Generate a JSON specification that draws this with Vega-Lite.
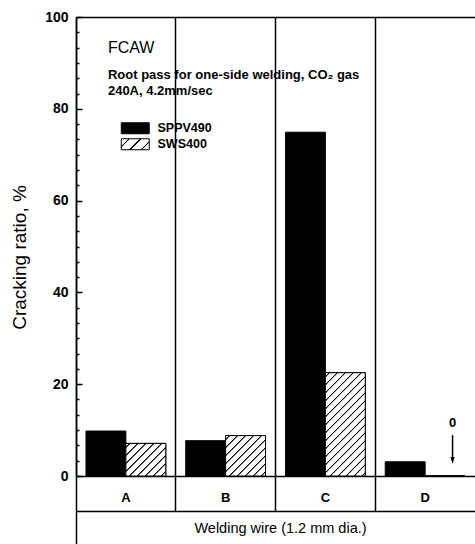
{
  "$schema": "https://vega.github.io/schema/vega-lite/v6.json",
  "width": 399,
  "height": 459,
  "autosize": {"type": "none"},
  "padding": {"left": 76, "top": 17, "right": 0, "bottom": 68},
  "background": "white",
  "config": {
    "view": {"stroke": null},
    "font": "Liberation Sans",
    "axis": {"domainColor": "black", "tickColor": "black", "domainWidth": 1.5, "tickWidth": 1.5, "labelColor": "black", "titleColor": "black", "labelFont": "Liberation Sans", "titleFont": "Liberation Sans"}
  },
  "data": {"values": [
    {"wire": "A", "steel": "SPPV490", "ratio": 9.8},
    {"wire": "A", "steel": "SWS400", "ratio": 7.1},
    {"wire": "B", "steel": "SPPV490", "ratio": 7.7},
    {"wire": "B", "steel": "SWS400", "ratio": 8.8},
    {"wire": "C", "steel": "SPPV490", "ratio": 74.9},
    {"wire": "C", "steel": "SWS400", "ratio": 22.5},
    {"wire": "D", "steel": "SPPV490", "ratio": 3.1},
    {"wire": "D", "steel": "SWS400", "ratio": 0}
  ]},
  "resolve": {"axis": {"x": "independent", "y": "independent"}},
  "layer": [
    {
      "mark": {"type": "bar", "stroke": "black", "strokeWidth": 1},
      "encoding": {
        "x": {"field": "wire", "type": "nominal", "scale": {"paddingInner": 0, "paddingOuter": 0},
          "axis": {"orient": "bottom", "title": null, "labelAngle": 0, "bandPosition": 0, "tickSize": 35, "labelPadding": -14, "labelBaseline": "middle", "labelFontSize": 13, "labelFontWeight": "bold", "grid": true, "gridColor": "black", "gridWidth": 1.5, "gridOpacity": 1}},
        "xOffset": {"field": "steel", "type": "nominal", "scale": {"paddingInner": 0, "paddingOuter": 0.25}},
        "y": {"field": "ratio", "type": "quantitative", "scale": {"domain": [0, 100], "nice": false},
          "axis": {"orient": "left", "values": [0, 20, 40, 60, 80, 100], "format": "d", "tickSize": -6, "labelPadding": 14, "labelFontSize": 14, "labelFontWeight": "bold", "labelOverlap": false, "grid": false, "title": "Cracking ratio, %", "titleFontSize": 19, "titleFontWeight": "normal", "titleX": -57, "titleY": 240, "titleAngle": -90, "titleBaseline": "middle", "titleAlign": "center"}},
        "fill": {"field": "steel", "type": "nominal", "scale": {"domain": ["SPPV490", "SWS400"], "range": ["black",
              {"expr": "{gradient: 'linear', x1: 0, y1: 0, x2: 1.2066, y2: 0.474, stops: [{offset: 0, color: 'white'}, {offset: 0.17692, color: 'white'}, {offset: 0.19231, color: 'black'}, {offset: 0.21795, color: 'black'}, {offset: 0.23333, color: 'white'}, {offset: 0.47179, color: 'white'}, {offset: 0.48718, color: 'black'}, {offset: 0.51282, color: 'black'}, {offset: 0.52821, color: 'white'}, {offset: 0.76667, color: 'white'}, {offset: 0.78205, color: 'black'}, {offset: 0.80769, color: 'black'}, {offset: 0.82308, color: 'white'}, {offset: 1, color: 'white'}]}"}]},
          "legend": {"orient": "none", "legendX": 53, "legendY": 105, "title": null, "padding": 0,
            "symbolType": "M-2.545,-1H2.545V1H-2.545Z", "symbolSize": 121, "symbolStrokeColor": "black", "symbolStrokeWidth": 1,
            "labelFont": "Liberation Sans", "labelFontSize": 12.5, "labelFontWeight": "bold", "labelColor": "black", "labelOffset": 16, "rowPadding": 0,
            "encode": {"symbols": {"update": {
              "stroke": {"value": "black"},
              "strokeWidth": {"value": 1},
              "opacity": {"value": 1},
              "fillOpacity": {"value": 1}
            }}}
          }
        }
      }
    },
    {
      "transform": [{"filter": "datum.steel === 'SWS400'"}],
      "mark": {"type": "bar", "stroke": "black", "strokeWidth": 1},
      "encoding": {
        "x": {"field": "wire", "type": "nominal", "axis": null},
        "xOffset": {"field": "steel", "type": "nominal"},
        "y": {"field": "ratio", "type": "quantitative", "axis": null},
        "fill": {
          "condition": [
            {"test": "datum.wire === 'A'", "value": {"gradient": "linear", "x1": 0, "y1": 0, "x2": 1.0906, "y2": 0.8888, "stops": [
              {"offset": 0, "color": "white"},
              {"offset": 0.0399, "color": "white"}, {"offset": 0.0482, "color": "black"}, {"offset": 0.062, "color": "black"}, {"offset": 0.0702, "color": "white"},
              {"offset": 0.1501, "color": "white"}, {"offset": 0.1584, "color": "black"}, {"offset": 0.1722, "color": "black"}, {"offset": 0.1804, "color": "white"},
              {"offset": 0.2603, "color": "white"}, {"offset": 0.2686, "color": "black"}, {"offset": 0.2824, "color": "black"}, {"offset": 0.2906, "color": "white"},
              {"offset": 0.3705, "color": "white"}, {"offset": 0.3788, "color": "black"}, {"offset": 0.3926, "color": "black"}, {"offset": 0.4008, "color": "white"},
              {"offset": 0.4807, "color": "white"}, {"offset": 0.489, "color": "black"}, {"offset": 0.5028, "color": "black"}, {"offset": 0.511, "color": "white"},
              {"offset": 0.5909, "color": "white"}, {"offset": 0.5992, "color": "black"}, {"offset": 0.6129, "color": "black"}, {"offset": 0.6212, "color": "white"},
              {"offset": 0.7011, "color": "white"}, {"offset": 0.7094, "color": "black"}, {"offset": 0.7231, "color": "black"}, {"offset": 0.7314, "color": "white"},
              {"offset": 0.8113, "color": "white"}, {"offset": 0.8196, "color": "black"}, {"offset": 0.8333, "color": "black"}, {"offset": 0.8416, "color": "white"},
              {"offset": 0.9215, "color": "white"}, {"offset": 0.9298, "color": "black"}, {"offset": 0.9435, "color": "black"}, {"offset": 0.9518, "color": "white"},
              {"offset": 1, "color": "white"}
            ]}},
            {"test": "datum.wire === 'B'", "value": {"gradient": "linear", "x1": 0, "y1": 0, "x2": 0.9952, "y2": 1.005, "stops": [
              {"offset": 0, "color": "white"},
              {"offset": 0.0361, "color": "white"}, {"offset": 0.0435, "color": "black"}, {"offset": 0.056, "color": "black"}, {"offset": 0.0634, "color": "white"},
              {"offset": 0.1356, "color": "white"}, {"offset": 0.143, "color": "black"}, {"offset": 0.1555, "color": "black"}, {"offset": 0.1629, "color": "white"},
              {"offset": 0.2351, "color": "white"}, {"offset": 0.2425, "color": "black"}, {"offset": 0.255, "color": "black"}, {"offset": 0.2624, "color": "white"},
              {"offset": 0.3346, "color": "white"}, {"offset": 0.342, "color": "black"}, {"offset": 0.3545, "color": "black"}, {"offset": 0.3619, "color": "white"},
              {"offset": 0.4341, "color": "white"}, {"offset": 0.4415, "color": "black"}, {"offset": 0.454, "color": "black"}, {"offset": 0.4614, "color": "white"},
              {"offset": 0.5336, "color": "white"}, {"offset": 0.541, "color": "black"}, {"offset": 0.5535, "color": "black"}, {"offset": 0.5609, "color": "white"},
              {"offset": 0.6331, "color": "white"}, {"offset": 0.6405, "color": "black"}, {"offset": 0.653, "color": "black"}, {"offset": 0.6604, "color": "white"},
              {"offset": 0.7326, "color": "white"}, {"offset": 0.74, "color": "black"}, {"offset": 0.7525, "color": "black"}, {"offset": 0.76, "color": "white"},
              {"offset": 0.8321, "color": "white"}, {"offset": 0.8396, "color": "black"}, {"offset": 0.852, "color": "black"}, {"offset": 0.8595, "color": "white"},
              {"offset": 0.9316, "color": "white"}, {"offset": 0.9391, "color": "black"}, {"offset": 0.9515, "color": "black"}, {"offset": 0.959, "color": "white"},
              {"offset": 1, "color": "white"}
            ]}},
            {"test": "datum.wire === 'C'", "value": {"gradient": "linear", "x1": 0, "y1": 0, "x2": 0.4673, "y2": 1.2066, "stops": [
              {"offset": 0, "color": "white"},
              {"offset": 0.02024, "color": "white"}, {"offset": 0.02442, "color": "black"}, {"offset": 0.0314, "color": "black"}, {"offset": 0.03559, "color": "white"},
              {"offset": 0.07606, "color": "white"}, {"offset": 0.08025, "color": "black"}, {"offset": 0.08723, "color": "black"}, {"offset": 0.09142, "color": "white"},
              {"offset": 0.13189, "color": "white"}, {"offset": 0.13608, "color": "black"}, {"offset": 0.14306, "color": "black"}, {"offset": 0.14724, "color": "white"},
              {"offset": 0.18772, "color": "white"}, {"offset": 0.19191, "color": "black"}, {"offset": 0.19888, "color": "black"}, {"offset": 0.20307, "color": "white"},
              {"offset": 0.24355, "color": "white"}, {"offset": 0.24773, "color": "black"}, {"offset": 0.25471, "color": "black"}, {"offset": 0.2589, "color": "white"},
              {"offset": 0.29937, "color": "white"}, {"offset": 0.30356, "color": "black"}, {"offset": 0.31054, "color": "black"}, {"offset": 0.31473, "color": "white"},
              {"offset": 0.3552, "color": "white"}, {"offset": 0.35939, "color": "black"}, {"offset": 0.36637, "color": "black"}, {"offset": 0.37055, "color": "white"},
              {"offset": 0.41103, "color": "white"}, {"offset": 0.41521, "color": "black"}, {"offset": 0.42219, "color": "black"}, {"offset": 0.42638, "color": "white"},
              {"offset": 0.46686, "color": "white"}, {"offset": 0.47104, "color": "black"}, {"offset": 0.47802, "color": "black"}, {"offset": 0.48221, "color": "white"},
              {"offset": 0.52268, "color": "white"}, {"offset": 0.52687, "color": "black"}, {"offset": 0.53385, "color": "black"}, {"offset": 0.53804, "color": "white"},
              {"offset": 0.57851, "color": "white"}, {"offset": 0.5827, "color": "black"}, {"offset": 0.58967, "color": "black"}, {"offset": 0.59386, "color": "white"},
              {"offset": 0.63434, "color": "white"}, {"offset": 0.63852, "color": "black"}, {"offset": 0.6455, "color": "black"}, {"offset": 0.64969, "color": "white"},
              {"offset": 0.69016, "color": "white"}, {"offset": 0.69435, "color": "black"}, {"offset": 0.70133, "color": "black"}, {"offset": 0.70552, "color": "white"},
              {"offset": 0.74599, "color": "white"}, {"offset": 0.75018, "color": "black"}, {"offset": 0.75716, "color": "black"}, {"offset": 0.76134, "color": "white"},
              {"offset": 0.80182, "color": "white"}, {"offset": 0.80601, "color": "black"}, {"offset": 0.81298, "color": "black"}, {"offset": 0.81717, "color": "white"},
              {"offset": 0.85765, "color": "white"}, {"offset": 0.86183, "color": "black"}, {"offset": 0.86881, "color": "black"}, {"offset": 0.873, "color": "white"},
              {"offset": 0.91347, "color": "white"}, {"offset": 0.91766, "color": "black"}, {"offset": 0.92464, "color": "black"}, {"offset": 0.92883, "color": "white"},
              {"offset": 0.9693, "color": "white"}, {"offset": 0.97349, "color": "black"}, {"offset": 0.98046, "color": "black"}, {"offset": 0.98465, "color": "white"},
              {"offset": 1, "color": "white"}
            ]}}
          ],
          "value": "white"
        }
      }
    },
    {
      "data": {"values": [{}]},
      "mark": {"type": "text", "align": "left", "baseline": "alphabetic", "font": "Liberation Sans", "fontSize": 16, "text": "FCAW", "color": "black"},
      "encoding": {
        "x": {"datum": "A", "bandPosition": 0.32,
          "axis": {"orient": "bottom", "offset": 35, "values": ["A"], "bandPosition": 0, "tickSize": 33, "labels": false, "grid": false, "title": "Welding wire (1.2 mm dia.)", "titleFontSize": 14.5, "titleFontWeight": "normal", "titleX": 204, "titleY": 17, "titleBaseline": "middle", "titleAlign": "center"}},
        "y": {"datum": 92.1,
          "axis": {"orient": "left", "values": [3.33, 6.67, 10, 13.33, 16.67, 23.33, 26.67, 30, 33.33, 36.67, 43.33, 46.67, 50, 53.33, 56.67, 63.33, 66.67, 70, 73.33, 76.67, 83.33, 86.67, 90, 93.33, 96.67], "tickSize": -3, "domain": false, "labels": false, "grid": false, "title": null}}
      }
    },
    {
      "data": {"values": [{}]},
      "mark": {"type": "text", "align": "left", "baseline": "alphabetic", "font": "Liberation Sans", "fontSize": 13, "fontWeight": "bold", "text": "Root pass for one-side welding, CO₂ gas", "color": "black"},
      "encoding": {
        "x": {"datum": "A", "bandPosition": 0.32, "axis": {"orient": "top", "domain": true, "ticks": false, "labels": false, "grid": false, "title": null}},
        "y": {"datum": 86.5, "axis": null}
      }
    },
    {
      "data": {"values": [{}]},
      "mark": {"type": "text", "align": "left", "baseline": "alphabetic", "font": "Liberation Sans", "fontSize": 13, "fontWeight": "bold", "text": "240A, 4.2mm/sec", "color": "black"},
      "encoding": {
        "x": {"datum": "A", "bandPosition": 0.32, "axis": null},
        "y": {"datum": 83.1, "axis": null}
      }
    },
    {
      "data": {"values": [{}]},
      "mark": {"type": "text", "align": "center", "baseline": "alphabetic", "font": "Liberation Sans", "fontSize": 13, "fontWeight": "bold", "text": "0", "color": "black"},
      "encoding": {
        "x": {"datum": "D", "bandPosition": 0.775, "axis": null},
        "y": {"datum": 10.7, "axis": null}
      }
    },
    {
      "data": {"values": [{}]},
      "mark": {"type": "rule", "color": "black", "strokeWidth": 1.5},
      "encoding": {
        "x": {"datum": "D", "bandPosition": 0.775, "axis": null},
        "y": {"datum": 8.9, "axis": null},
        "y2": {"datum": 3.6}
      }
    },
    {
      "data": {"values": [{}]},
      "mark": {"type": "point", "shape": "M-0.6,-1L0.6,-1L0,1Z", "size": 49, "filled": true, "color": "black", "opacity": 1},
      "encoding": {
        "x": {"datum": "D", "bandPosition": 0.775, "axis": null},
        "y": {"datum": 3.4, "axis": null}
      }
    }
  ]
}
